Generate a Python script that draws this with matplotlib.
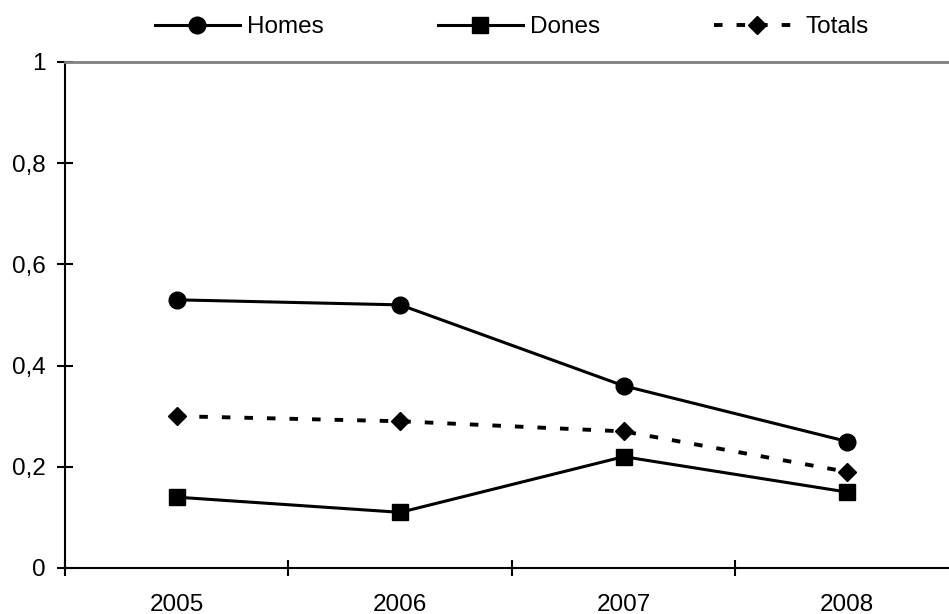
import matplotlib
matplotlib.use("Agg")
import matplotlib.pyplot as plt
from matplotlib.ticker import FuncFormatter, FixedLocator
import numpy as np

years = ["2005", "2006", "2007", "2008"]
homes = [0.53, 0.52, 0.36, 0.25]
dones = [0.14, 0.11, 0.22, 0.15]
totals = [0.30, 0.29, 0.27, 0.19]

plt.rcParams["font.family"] = ["Liberation Sans", "DejaVu Sans"]
FS = 17.5

fig = plt.figure(figsize=(9.49, 6.14), dpi=100)
ax = fig.add_axes([65/949, 46/614, 1 - 65/949, 506/614])

x = np.arange(len(years))
ax.plot(x, homes, color="black", lw=2.2, marker="o", ms=12, label="Homes")
ax.plot(x, dones, color="black", lw=2.2, marker="s", ms=12, label="Dones")
ax.plot(x, totals, color="black", lw=2.8, ls=(0, (2.2, 3.6)), marker="D", ms=9,
        label="Totals")

ax.set_ylim(0, 1)
ax.set_xlim(-0.5, 3.5 - 10/224)
ax.set_yticks(np.arange(0, 1.01, 0.2))
ax.yaxis.set_major_formatter(FuncFormatter(
    lambda v, p: "0" if v == 0 else ("1" if v == 1 else f"{v:.1f}".replace(".", ","))))

# category boundary ticks, labels at the centres
ax.xaxis.set_major_locator(FixedLocator(np.arange(-0.5, len(years), 1.0)))
ax.xaxis.set_major_formatter(FuncFormatter(lambda v, p: ""))
ax.xaxis.set_minor_locator(FixedLocator(x))
ax.set_xticklabels(years, minor=True)
ax.tick_params(axis="x", which="minor", length=0, pad=18.5, labelsize=FS)
ax.tick_params(axis="x", which="major", direction="inout", length=12, width=1.5)
ax.tick_params(axis="y", direction="inout", length=12, width=1.5, pad=8, labelsize=FS)

for s in ("left", "bottom"):
    ax.spines[s].set_linewidth(1.5)
ax.spines["top"].set_color("#808080")
ax.spines["top"].set_linewidth(2)
ax.spines["right"].set_visible(False)

fig.legend(loc="center", bbox_to_anchor=(512/949, 1 - 27/614), ncol=3,
           frameon=False, fontsize=FS, handlelength=3.5, handletextpad=0.28,
           columnspacing=4.7)

fig.savefig("out.png", dpi=100)
